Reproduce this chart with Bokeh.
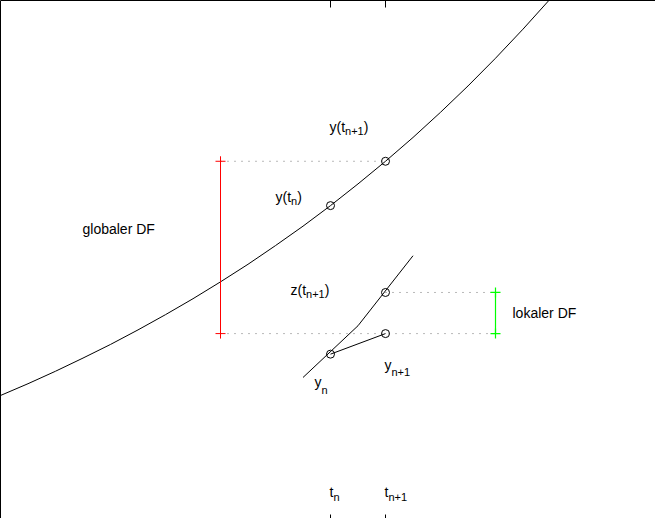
from bokeh.plotting import figure
from bokeh.models import Range1d, LinearAxis, FixedTicker
from bokeh.core.properties import value
from bokeh.embed import file_html
from bokeh.resources import INLINE

# ---- data ----
t_grid = [0.00, 0.05, 0.10, 0.15, 0.20, 0.25, 0.30, 0.35, 0.40, 0.45, 0.50,
          0.55, 0.60, 0.65, 0.70, 0.75, 0.80, 0.85, 0.90, 0.95, 1.00, 1.05]
y_exact = [1.000, 1.051, 1.105, 1.162, 1.221, 1.284, 1.350, 1.419, 1.492, 1.568, 1.649,
           1.733, 1.822, 1.916, 2.014, 2.117, 2.226, 2.340, 2.460, 2.586, 2.718, 2.858]

t_n = 0.6
t_n1 = 0.7
y_tn = 1.822      # y(t_n)
y_tn1 = 2.014     # y(t_{n+1})
y_n = 1.179       # y_n
y_n1 = 1.268      # y_{n+1}
z_tn1 = 1.446     # z(t_{n+1})

t_local = [0.55, 0.65, 0.75]
z_local = [1.078, 1.302, 1.605]

t_global_bar = 0.4
t_local_bar = 0.9

tick_positions = [t_n, t_n1]

FONT = value("Liberation Sans")
MAIN = "14px"
SUB = "11px"

# Arial-ish advance widths (em) for width estimates of label pieces
_W = {"y": 0.5, "(": 0.333, ")": 0.333, "t": 0.278, "n": 0.556, "+": 0.584,
      "1": 0.556, "z": 0.5}


def w(s, px):
    return sum(_W.get(c, 0.55) for c in s) * px


W, H = 655, 518
YMIN, YMAX = 0.4675, 2.71
p = figure(width=W, height=H, output_backend="svg", toolbar_location=None,
           x_range=Range1d(0, 655 / 550), y_range=Range1d(YMIN, YMAX),
           x_axis_type=None, y_axis_type=None, min_border=0,
           background_fill_color="white", border_fill_color="white")
p.grid.visible = False
p.outline_line_color = None


def make_axis(ticks, tick_in, line_alpha):
    ax = LinearAxis(ticker=FixedTicker(ticks=ticks))
    ax.major_tick_in = tick_in
    ax.major_tick_out = 0
    ax.minor_tick_in = 0
    ax.minor_tick_out = 0
    ax.major_label_text_font_size = "0px"
    ax.major_label_text_color = None
    ax.major_label_standoff = 0
    ax.axis_label = None
    ax.axis_label_standoff = 0
    ax.axis_line_color = "black"
    ax.axis_line_alpha = line_alpha
    ax.major_tick_line_color = "black"
    return ax


p.add_layout(make_axis(tick_positions, 7, 1.0), "above")
p.add_layout(make_axis(tick_positions, 4, 0.0), "below")
p.add_layout(make_axis([], 0, 1.0), "left")

# exact solution
p.line(t_grid, y_exact, line_color="black", line_width=1)

# local solution through y_n
p.line(t_local, z_local, line_color="black", line_width=1)

# Euler step
p.line([t_n, t_n1], [y_n, y_n1], line_color="black", line_width=1)

# dotted guides
dot = dict(line_color="black", line_alpha=0.55, line_width=1, line_dash="1 6")
p.line([t_global_bar, t_n1], [y_tn1, y_tn1], **dot)
p.line([t_global_bar, t_local_bar], [y_n1, y_n1], **dot)
p.line([t_n1, t_local_bar], [z_tn1, z_tn1], **dot)

# global error bar (red) and local error bar (green)
p.line([t_global_bar, t_global_bar], [y_n1, y_tn1], line_color="#ff0000", line_width=1)
p.scatter([t_global_bar, t_global_bar], [y_n1, y_tn1], marker="cross", size=10,
          line_color="#ff0000", line_width=1)
p.line([t_local_bar, t_local_bar], [y_n1, z_tn1], line_color="#00ff00", line_width=1.2)
p.scatter([t_local_bar, t_local_bar], [y_n1, z_tn1], marker="cross", size=10,
          line_color="#00ff00", line_width=1.2)

# circles
p.scatter([t_n, t_n1, t_n, t_n1, t_n1], [y_tn, y_tn1, y_n, y_n1, z_tn1],
          marker="circle", size=8, fill_color=None, line_color="black", line_width=1)


def label(x, y, dx, dy, main, sub=None, tail=None, sub_drop=4):
    """Draw main + subscript + tail starting at pixel offset (dx, dy) from (x, y)."""
    p.text([x], [y], text=[main], x_offset=dx, y_offset=dy, text_font=FONT,
           text_font_size=MAIN, text_color="black", text_align="left",
           text_baseline="alphabetic")
    if sub:
        sx = dx + w(main, 14)
        p.text([x], [y], text=[sub], x_offset=sx, y_offset=dy + sub_drop, text_font=FONT,
               text_font_size=SUB, text_color="black", text_align="left",
               text_baseline="alphabetic")
        if tail:
            tx = sx + w(sub, 11)
            p.text([x], [y], text=[tail], x_offset=tx, y_offset=dy, text_font=FONT,
                   text_font_size=MAIN, text_color="black", text_align="left",
                   text_baseline="alphabetic")


label(t_n, y_tn, -55, -9, "y(t", "n", ")")
label(t_n1, y_tn1, -56, -34, "y(t", "n+1", ")")
label(t_n1, z_tn1, -95, -2, "z(t", "n+1", ")")
label(t_n, y_n, -16, 28, "y", "n", sub_drop=8)
label(t_n1, y_n1, -1, 31, "y", "n+1", sub_drop=7)
label(t_global_bar, (y_n1 + y_tn1) / 2, -138, -18, "globaler DF")
label(t_local_bar, (y_n1 + z_tn1) / 2, 17, 0, "lokaler DF")
label(t_n, YMIN, -1, -27, "t", "n", sub_drop=5)
label(t_n1, YMIN, -1, -27, "t", "n+1", sub_drop=5)

open("out.html", "w").write(file_html(p, INLINE))
